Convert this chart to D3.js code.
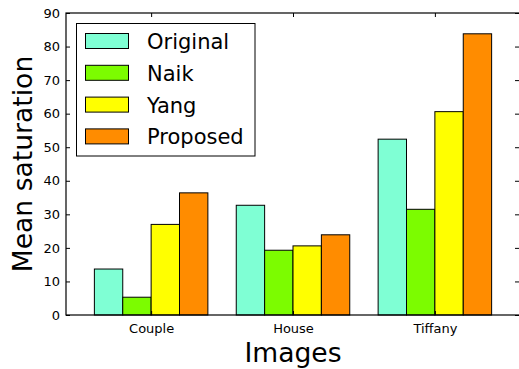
<!DOCTYPE html>
<html><head><meta charset="utf-8">
<script src="https://cdn.jsdelivr.net/npm/d3@7"></script>
<style>body{margin:0;background:#fff;}svg{display:block;font-family:"DejaVu Sans",sans-serif;}</style>
</head><body>
<svg id="c" width="519" height="369"></svg>
<script>
const categories = ["Couple", "House", "Tiffany"];
const seriesNames = ["Original", "Naik", "Yang", "Proposed"];
const seriesColors = ["#7fffd4", "#7cfc00", "#ffff00", "#ff8c00"];
const original = [13.7, 32.7, 52.4];
const naik = [5.3, 19.3, 31.5];
const yang = [27.0, 20.6, 60.6];
const proposed = [36.4, 23.9, 83.8];
const yTicks = [0, 10, 20, 30, 40, 50, 60, 70, 80, 90];
const series = [original, naik, yang, proposed];

const svg = d3.select("#c");
const L = 66, R = 520, T = 13, B = 315;
const x = d3.scaleLinear().domain([-0.6, 2.6]).range([L, R]);
const y = d3.scaleLinear().domain([0, 90]).range([B, T]);
const bw = 0.2;

series.forEach((vals, si) => {
  svg.append("g").selectAll("rect").data(vals).join("rect")
    .attr("x", (d, i) => x(i - 0.4 + si * bw))
    .attr("width", (d, i) => x(i - 0.4 + (si + 1) * bw) - x(i - 0.4 + si * bw))
    .attr("y", d => y(d))
    .attr("height", d => y(0) - y(d))
    .attr("fill", seriesColors[si])
    .attr("stroke", "#000").attr("stroke-width", 1);
});

// axes
const yAxL = d3.axisLeft(y).tickValues(yTicks).tickSize(-4).tickPadding(6).tickFormat(d3.format("d"));
const yAxR = d3.axisRight(y).tickValues(yTicks).tickSize(-5).tickFormat("");
const xAxB = d3.axisBottom(x).tickValues([0, 1, 2]).tickSize(-4).tickPadding(9).tickFormat(i => categories[i]);
const xAxT = d3.axisTop(x).tickValues([0, 1, 2]).tickSize(-4).tickFormat("");
function style(g){ g.select(".domain").remove(); g.selectAll("line").attr("stroke","#000"); g.selectAll("text").attr("font-size",13).attr("font-family","DejaVu Sans").attr("fill","#000"); }
svg.append("g").attr("transform",`translate(${L},0)`).call(yAxL).call(style);
svg.append("g").attr("transform",`translate(${R},0)`).call(yAxR).call(style);
svg.append("g").attr("transform",`translate(0,${B})`).call(xAxB).call(style);
svg.append("g").attr("transform",`translate(0,${T})`).call(xAxT).call(style);
svg.append("rect").attr("x",L).attr("y",T).attr("width",R-L).attr("height",B-T)
  .attr("fill","none").attr("stroke","#000").attr("stroke-width",1.2);

// labels
svg.append("text").attr("x",(L+R)/2).attr("y",361.5).attr("text-anchor","middle")
  .attr("font-size",26.6).text("Images");
svg.append("text").attr("transform",`translate(31.5,${(T+B)/2}) rotate(-90)`).attr("text-anchor","middle")
  .attr("font-size",26.6).text("Mean saturation");

// legend
const lg = svg.append("g");
lg.append("rect").attr("x",76.5).attr("y",23.5).attr("width",178.5).attr("height",132.5)
  .attr("fill","#fff").attr("stroke","#000").attr("stroke-width",1);
seriesNames.forEach((n, i) => {
  const yy = 33.5 + i * 31.8;
  lg.append("rect").attr("x",85.5).attr("y",yy).attr("width",43).attr("height",15)
    .attr("fill",seriesColors[i]).attr("stroke","#000").attr("stroke-width",1);
  lg.append("text").attr("x",147).attr("y",yy+15.5).attr("font-size",21).text(n);
});
</script>
</body></html>
